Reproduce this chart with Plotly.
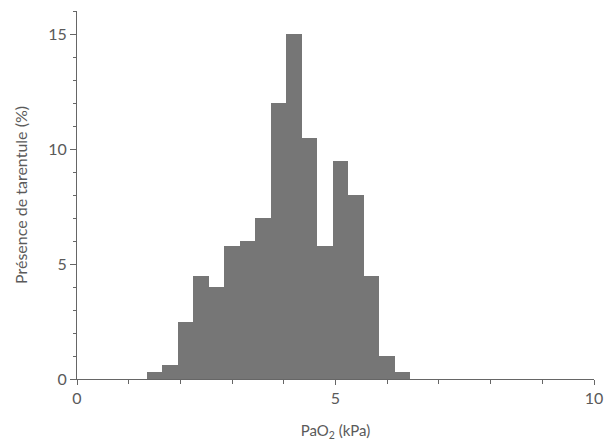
import plotly.graph_objects as go

# Data
bin_left = [1.35, 1.65, 1.95, 2.25, 2.55, 2.85, 3.15, 3.45, 3.75, 4.05,
            4.35, 4.65, 4.95, 5.25, 5.55, 5.85, 6.15]
bin_width = 0.3
presence = [0.3, 0.6, 2.5, 4.5, 4.0, 5.8, 6.0, 7.0, 12.0, 15.0,
            10.5, 5.8, 9.5, 8.0, 4.5, 1.0, 0.3]
x_ticks = [0, 5, 10]
y_ticks = [0, 5, 10, 15]

centers = [b + bin_width / 2 for b in bin_left]

txt = "#5a5a5a"
fig = go.Figure(go.Bar(
    x=centers, y=presence, width=[bin_width] * len(centers),
    marker=dict(color="#767676", line=dict(width=0)),
))

fig.update_layout(
    width=611, height=443,
    margin=dict(l=77, r=17, t=11, b=64),
    paper_bgcolor="white", plot_bgcolor="white",
    font=dict(family="Lato, Open Sans, sans-serif", color=txt, size=16),
    bargap=0, showlegend=False,
)
fig.update_xaxes(
    range=[0, 10], tickvals=x_ticks, ticktext=[str(v) for v in x_ticks],
    showline=True, linecolor="#666666", linewidth=1,
    ticks="outside", ticklen=5, tickcolor="#666666",
    minor=dict(dtick=1, tick0=0, ticks="outside", ticklen=4, tickcolor="#666666"),
    showgrid=False, zeroline=False, automargin=False,
    tickfont=dict(size=16, color=txt),
    title=dict(text="PaO<sub>2</sub> (kPa)", font=dict(size=15, color=txt), standoff=19),
)
fig.update_yaxes(
    range=[0, 16], tickvals=y_ticks, ticktext=[str(v) for v in y_ticks],
    showline=True, linecolor="#666666", linewidth=1,
    ticks="outside", ticklen=6, tickcolor="#666666",
    minor=dict(dtick=1, tick0=0, ticks="outside", ticklen=3, tickcolor="#666666"),
    showgrid=False, zeroline=False, automargin=False,
    tickfont=dict(size=16, color=txt),
    title=dict(text="Présence de tarentule (%)", font=dict(size=16, color=txt), standoff=16),
)

fig.write_html("out.html")
